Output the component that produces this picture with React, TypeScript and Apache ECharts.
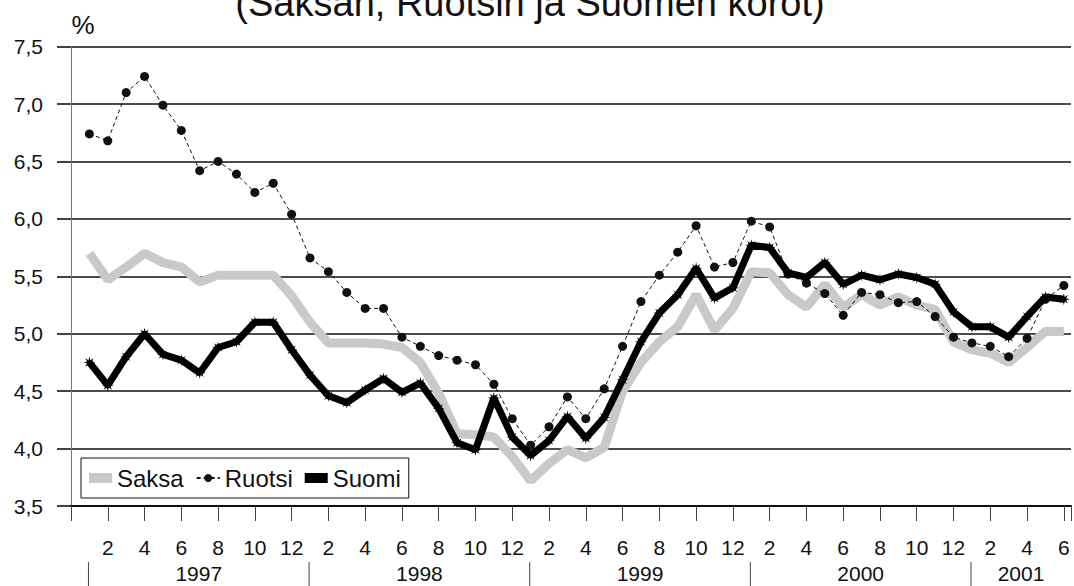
import React, { useEffect, useRef } from "react";
import * as echarts from "echarts";

const FONT = "'Liberation Sans', Arial, sans-serif";

const titleText = "(Saksan, Ruotsin ja Suomen korot)";
const unitText = "%";
const seriesNames = ["Saksa", "Ruotsi", "Suomi"];

const years = [1997, 1998, 1999, 2000, 2001];
const monthsInYear = [12, 12, 12, 12, 6];

// categories: month/year, Jan 1997 .. Jun 2001
const categories: string[] = [];
years.forEach((y, i) => {
  for (let m = 1; m <= monthsInYear[i]; m++) categories.push(`${m}/${y}`);
});

const saksa = [
  5.7, 5.47, 5.58, 5.7, 5.62, 5.58, 5.45, 5.51, 5.51, 5.51, 5.51, 5.33,
  5.1, 4.92, 4.92, 4.92, 4.91, 4.88, 4.75, 4.48, 4.13, 4.12, 4.1, 3.93,
  3.72, 3.87, 3.99, 3.92, 4.01, 4.5, 4.75, 4.93, 5.06, 5.34, 5.03, 5.22,
  5.54, 5.53, 5.34, 5.23, 5.43, 5.23, 5.34, 5.25, 5.32, 5.25, 5.21, 4.93,
  4.86, 4.83, 4.75, 4.88, 5.02, 5.02,
];

const ruotsi = [
  6.74, 6.68, 7.1, 7.24, 6.99, 6.77, 6.42, 6.5, 6.39, 6.23, 6.31, 6.04,
  5.66, 5.54, 5.36, 5.22, 5.22, 4.97, 4.89, 4.81, 4.77, 4.73, 4.56, 4.26,
  4.03, 4.19, 4.45, 4.26, 4.52, 4.89, 5.28, 5.51, 5.71, 5.94, 5.58, 5.62,
  5.98, 5.93, 5.52, 5.44, 5.35, 5.16, 5.36, 5.34, 5.27, 5.28, 5.15, 4.97,
  4.92, 4.89, 4.8, 4.96, 5.3, 5.42,
];

const suomi = [
  4.75, 4.55, 4.8, 5.0, 4.82, 4.77, 4.66, 4.88, 4.93, 5.1, 5.1, 4.86,
  4.64, 4.46, 4.4, 4.51, 4.61, 4.49, 4.57, 4.35, 4.05, 3.99, 4.44, 4.1,
  3.94, 4.07, 4.28, 4.09, 4.27, 4.6, 4.93, 5.18, 5.34, 5.57, 5.31, 5.4,
  5.77, 5.75, 5.53, 5.49, 5.62, 5.43, 5.51, 5.47, 5.52, 5.49, 5.43, 5.19,
  5.06, 5.06, 4.97, 5.15, 5.32, 5.3,
];

const yMin = 3.5;
const yMax = 7.5;
const yStep = 0.5;
const xMin = 0;
const xMax = 54.39;
const xStep = 2;

const STAR =
  "path://M10,0 L3.7,1.53 L7.07,7.07 L1.53,3.7 L0,10 L-1.53,3.7 L-7.07,7.07 L-3.7,1.53 L-10,0 L-3.7,-1.53 L-7.07,-7.07 L-1.53,-3.7 L0,-10 L1.53,-3.7 L7.07,-7.07 L3.7,-1.53 Z";

const toPairs = (arr: number[]) => arr.map((v, i) => [i + 1, v]);

export default function App() {
  const ref = useRef<HTMLDivElement>(null);

  useEffect(() => {
    if (!ref.current) return;
    const chart = echarts.init(ref.current, undefined, { renderer: "svg" });

    chart.setOption({
      animation: false,
      grid: { left: 71, right: 0, top: 46.6, bottom: 80, containLabel: false },
      xAxis: {
        type: "value",
        min: xMin,
        max: xMax,
        interval: xStep,
        axisLine: { show: true, onZero: false, lineStyle: { color: "#111", width: 2 } },
        axisTick: { show: true, length: 15, lineStyle: { color: "#444", width: 1 } },
        splitLine: { show: false },
        axisLabel: {
          margin: 31,
          fontSize: 21,
          color: "#111",
          fontFamily: FONT,
          showMinLabel: true,
          showMaxLabel: true,
          formatter: (v: number) => {
            const r = Math.round(v);
            if (r <= 0 || Math.abs(v - r) > 1e-6) return "";
            return String(((r - 1) % 12) + 1);
          },
        },
      },
      yAxis: {
        type: "value",
        min: yMin,
        max: yMax,
        interval: yStep,
        axisLine: { show: true, lineStyle: { color: "#777", width: 1 } },
        axisTick: { show: true, length: 14, lineStyle: { color: "#111", width: 1.6 } },
        splitLine: { show: true, lineStyle: { color: "#111", width: 1.6 } },
        axisLabel: {
          margin: 28,
          fontSize: 21,
          color: "#111",
          fontFamily: FONT,
          formatter: (v: number) => v.toFixed(1).replace(".", ","),
        },
      },
      legend: {
        left: 81,
        top: 458,
        orient: "horizontal",
        padding: [8, 8, 8, 8],
        itemGap: 12,
        itemWidth: 23,
        itemHeight: 10,
        borderColor: "#111",
        borderWidth: 1,
        backgroundColor: "#fff",
        textStyle: { fontSize: 24, color: "#111", fontFamily: FONT },
        data: [
          { name: seriesNames[0], icon: "rect" },
          { name: seriesNames[1] },
          { name: seriesNames[2], icon: "rect" },
        ],
      },
      series: [
        {
          name: seriesNames[0],
          type: "line",
          data: toPairs(saksa),
          symbol: "none",
          lineStyle: { color: "#c9c9c9", width: 9 },
          itemStyle: { color: "#c9c9c9" },
          emphasis: { disabled: true },
          z: 2,
        },
        {
          name: seriesNames[1],
          type: "line",
          data: toPairs(ruotsi),
          symbol: "circle",
          symbolSize: 9,
          lineStyle: { color: "#111", width: 1, type: [4, 3] },
          itemStyle: { color: "#111" },
          emphasis: { disabled: true },
          z: 3,
        },
        {
          name: seriesNames[2],
          type: "line",
          data: toPairs(suomi),
          symbol: STAR,
          symbolSize: 12,
          lineStyle: { color: "#000", width: 7 },
          itemStyle: { color: "#000" },
          emphasis: { disabled: true },
          z: 4,
        },
      ],
    });

    // year separators and labels under the month labels
    const px = (m: number) => chart.convertToPixel({ xAxisIndex: 0 }, m) as number;
    const sepMonths = years.map((_, i) => 12 * i + 0.95);
    const graphics: any[] = [
      {
        type: "text",
        x: 530,
        y: 3,
        style: {
          text: titleText,
          fontSize: 38,
          fontFamily: FONT,
          fill: "#111",
          textAlign: "center",
          textVerticalAlign: "middle",
        },
      },
      {
        type: "text",
        x: 83,
        y: 25,
        style: {
          text: unitText,
          fontSize: 26,
          fontFamily: FONT,
          fill: "#111",
          textAlign: "center",
          textVerticalAlign: "middle",
        },
      },
    ];
    sepMonths.forEach((m, i) => {
      const x = px(m);
      graphics.push({
        type: "line",
        shape: { x1: x, y1: 562, x2: x, y2: 586 },
        style: { stroke: "#444", lineWidth: 1 },
      });
      const end = i + 1 < sepMonths.length ? sepMonths[i + 1] : xMax;
      const cx = (px(m) + px(end)) / 2;
      graphics.push({
        type: "text",
        x: cx,
        y: 573,
        style: {
          text: String(years[i]),
          fontSize: 21,
          fontFamily: FONT,
          fill: "#111",
          textAlign: "center",
          textVerticalAlign: "middle",
        },
      });
    });
    chart.setOption({ graphic: graphics });

    return () => chart.dispose();
  }, []);

  return (
    <div
      ref={ref}
      style={{ position: "absolute", left: 0, top: 0, width: 1074, height: 586, background: "#fff" }}
    />
  );
}
